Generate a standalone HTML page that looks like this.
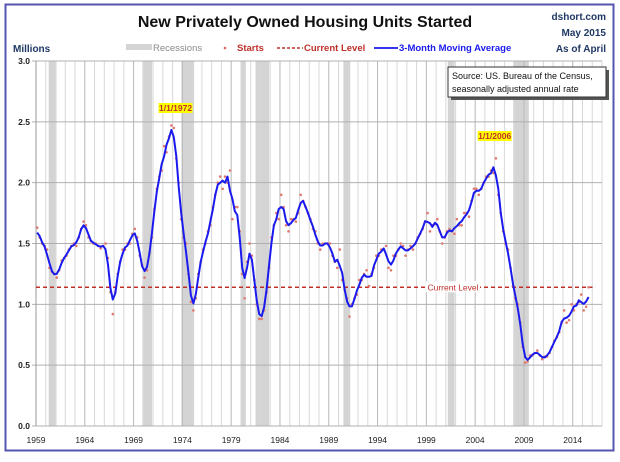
<!DOCTYPE html>
<html><head><meta charset="utf-8">
<style>
html,body{margin:0;padding:0;background:#fff;}
body{width:620px;height:457px;overflow:hidden;font-family:"Liberation Sans",sans-serif;}
svg text{font-family:"Liberation Sans",sans-serif;}
</style></head>
<body>
<svg id="chart" width="620" height="457" viewBox="0 0 620 457" xmlns="http://www.w3.org/2000/svg">
<rect x="5.5" y="4.5" width="608" height="446" fill="#fff" stroke="#5555b0" stroke-width="2"/>
<text x="305" y="27" text-anchor="middle" font-size="16" font-weight="bold" fill="#111">New Privately Owned Housing Units Started</text>
<text x="606" y="20" text-anchor="end" font-size="10" font-weight="bold" fill="#1f3864">dshort.com</text>
<text x="606" y="36" text-anchor="end" font-size="10" font-weight="bold" fill="#1f3864">May 2015</text>
<text x="606" y="52" text-anchor="end" font-size="10" font-weight="bold" fill="#1f3864">As of April</text>
<text x="13" y="52" font-size="10" font-weight="bold" fill="#1f3864">Millions</text>
<g>
<rect x="126" y="44" width="26" height="6" fill="#d4d4d4"/>
<text x="153" y="51" font-size="9.5" fill="#8a8a8a">Recessions</text>
<circle cx="225" cy="48" r="1.3" fill="#d9695f"/>
<text x="237" y="51" font-size="9.5" font-weight="bold" fill="#c0302a">Starts</text>
<line x1="277" y1="48" x2="303" y2="48" stroke="#c0302a" stroke-width="1.5" stroke-dasharray="3,2"/>
<text x="304" y="51" font-size="9.5" font-weight="bold" fill="#c0302a">Current Level</text>
<line x1="374" y1="48" x2="398" y2="48" stroke="#1a1aee" stroke-width="1.8"/>
<text x="399" y="51" font-size="9.5" font-weight="bold" fill="#1a1aee">3-Month Moving Average</text>
</g>
<g id="grid"></g>
<g id="marks"></g>
<g id="labels"></g>
<g>
<rect x="451" y="70" width="158" height="30" fill="#555"/>
<rect x="448" y="67" width="158" height="30" fill="#fff" stroke="#333" stroke-width="1"/>
<text x="452" y="79" font-size="9" fill="#111">Source: US. Bureau of the Census,</text>
<text x="452" y="92" font-size="9" fill="#111">seasonally adjusted annual rate</text>
</g>
</svg>
<script>
// Data: quarterly housing starts (millions, SAAR), 1959Q1 onward, then April 2015
const startYear = 1959;
const starts = [
1.63,1.55,1.50,1.48, 1.45,1.30,1.27,1.25, 1.22,1.28,1.36,1.38, 1.40,1.45,1.48,1.50,
1.48,1.55,1.62,1.68, 1.65,1.55,1.52,1.50, 1.50,1.48,1.46,1.48, 1.50,1.38,1.10,0.92,
1.10,1.25,1.35,1.45, 1.45,1.50,1.50,1.58, 1.62,1.55,1.40,1.32, 1.22,1.28,1.42,1.55,
1.78,1.95,2.05,2.10, 2.30,2.25,2.38,2.47, 2.45,2.20,2.00,1.70, 1.55,1.50,1.25,1.02,
0.95,1.05,1.25,1.35, 1.45,1.50,1.60,1.65, 1.80,1.90,2.00,2.05, 1.95,2.05,2.00,2.10,
1.70,1.80,1.80,1.60, 1.25,1.05,1.35,1.50, 1.40,1.20,1.00,0.88, 0.88,0.95,1.10,1.30,
1.55,1.65,1.75,1.70, 1.90,1.80,1.65,1.60, 1.70,1.70,1.68,1.75, 1.90,1.85,1.80,1.75,
1.70,1.62,1.60,1.50, 1.45,1.50,1.50,1.50, 1.50,1.40,1.35,1.30, 1.45,1.20,1.12,1.05,
0.90,1.00,1.05,1.08, 1.20,1.20,1.25,1.28, 1.15,1.25,1.30,1.40, 1.40,1.45,1.45,1.48,
1.30,1.28,1.40,1.40, 1.45,1.50,1.48,1.40, 1.45,1.48,1.45,1.50, 1.55,1.58,1.62,1.68,
1.75,1.60,1.65,1.66, 1.70,1.60,1.50,1.55, 1.60,1.62,1.60,1.58, 1.70,1.65,1.65,1.75,
1.75,1.72,1.85,1.95, 1.95,1.90,1.95,2.00, 2.05,2.05,2.10,2.08, 2.20,1.90,1.75,1.60,
1.50,1.45,1.30,1.15, 1.05,1.00,0.85,0.65, 0.52,0.53,0.58,0.58, 0.60,0.62,0.58,0.55,
0.57,0.57,0.60,0.65, 0.70,0.73,0.77,0.85, 0.95,0.85,0.87,1.00, 0.95,1.00,1.02,1.08,
0.95,0.98,1.14
];
const currentLevel = 1.14;
const recessionStarts = [1960.3, 1969.9, 1973.9, 1980.0, 1981.5, 1990.5, 2001.2, 2007.9];
const recessionEnds   = [1961.1, 1970.9, 1975.2, 1980.5, 1982.9, 1991.2, 2001.9, 2009.5];
const yTicks = [0, 0.5, 1.0, 1.5, 2.0, 2.5, 3.0];
const yTickLabels = ["0.0","0.5","1.0","1.5","2.0","2.5","3.0"];
const xTickYears = [1959,1964,1969,1974,1979,1984,1989,1994,1999,2004,2009,2014];
const peakLabels = ["1/1/1972","1/1/2006"];
const peakYears = [1973.3, 2006.0];

const X0=36, X1=602, Y0=426, Y1=61, YMIN=1959, YMAX=2017;
function xs(yr){return X0+(yr-YMIN)*(X1-X0)/(YMAX-YMIN);}
function ys(v){return Y0-(v/3)*(Y0-Y1);}
const NS="http://www.w3.org/2000/svg";
function mk(tag,attrs,parent){const e=document.createElementNS(NS,tag);for(const k in attrs)e.setAttribute(k,attrs[k]);parent.appendChild(e);return e;}
const grid=document.getElementById('grid'), marks=document.getElementById('marks'), labels=document.getElementById('labels');

for(let i=0;i<recessionStarts.length;i++){
  const r=mk('rect',{x:xs(recessionStarts[i]),y:Y1,width:xs(recessionEnds[i])-xs(recessionStarts[i]),height:Y0-Y1,fill:'#d4d4d4'},grid);
  
  
}
for(let y=YMIN+1;y<=YMAX;y++){
  const l=mk('line',{x1:xs(y),x2:xs(y),y1:Y1,y2:Y0,stroke:(y-YMIN)%5===0?'#b8b8b8':'#d8d8d8','stroke-width':1},grid);
  
  
}
yTicks.forEach((v,i)=>{
  const l=mk('line',{x1:X0-4,x2:X1,y1:ys(v),y2:ys(v),stroke:'#b0b0b0','stroke-width':1},grid);
  
  
  const t=mk('text',{x:X0-6,y:ys(v)+3,'text-anchor':'end','font-size':8.5,'font-weight':'bold',fill:'#222'},labels);
  t.textContent=yTickLabels[i];
  
  
});
const ax=mk('line',{x1:X0,x2:X0,y1:Y1,y2:Y0,stroke:'#999'},grid);


xTickYears.forEach(y=>{
  const t=mk('text',{x:xs(y),y:443,'text-anchor':'middle','font-size':8.5,fill:'#222'},labels);
  t.textContent=String(y);
  
  
});

function yrOf(i){return startYear+i*0.25+0.125;}
const cl=mk('line',{x1:X0,x2:xs(yrOf(starts.length-1))+4,y1:ys(currentLevel),y2:ys(currentLevel),stroke:'#c0302a','stroke-width':1.5,'stroke-dasharray':'4,3'},marks);


const clb=mk('rect',{x:426,y:ys(currentLevel)-6,width:54,height:11,fill:'#fff'},marks);


const clt=mk('text',{x:453,y:ys(currentLevel)+3,'text-anchor':'middle','font-size':8.5,fill:'#c0302a'},marks);
clt.textContent='Current Level';



starts.forEach((v,i)=>{
  const c=mk('circle',{cx:xs(yrOf(i)),cy:ys(v),r:1.3,fill:'#e07a70'},marks);
  
  
});
let pts=[];
for(let i=0;i<starts.length;i++){
  const a=starts.slice(Math.max(0,i-1),Math.min(starts.length,i+2));
  const m=a.reduce((s,x)=>s+x,0)/a.length;
  pts.push(xs(yrOf(i)).toFixed(1)+','+ys(m).toFixed(1));
}
const pl=mk('polyline',{points:pts.join(' '),fill:'none',stroke:'#1a1aee','stroke-width':2,'stroke-linejoin':'round'},marks);



peakLabels.forEach((s,i)=>{
  const cx=xs(peakYears[i]);
  const yy=i===0?111:139;
  const b=mk('rect',{x:cx-17,y:yy-8,width:34,height:10,fill:'#ffff00'},labels);
  
  
  const t=mk('text',{x:cx,y:yy,'text-anchor':'middle','font-size':8.5,'font-weight':'bold',fill:'#c0302a'},labels);
  t.textContent=s;
  
  
});
</script>
</body></html>
